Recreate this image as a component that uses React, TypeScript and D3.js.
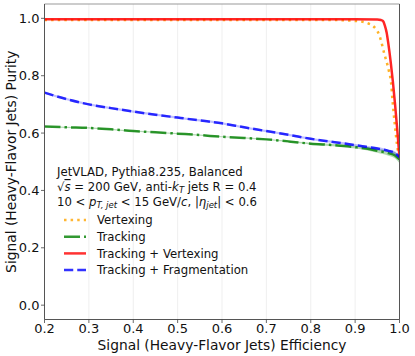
import React from "react";
import * as d3 from "d3";

const W = 415;
const H = 356;

// Efficiency grid for tracking curves
const effTrk = [0.2, 0.25, 0.3, 0.35, 0.4, 0.45, 0.5, 0.55, 0.6, 0.65, 0.7, 0.75, 0.8, 0.85, 0.9, 0.925, 0.95, 0.975, 0.99, 1.0];
const purFrag = [0.741, 0.718, 0.700, 0.687, 0.675, 0.664, 0.654, 0.644, 0.634, 0.620, 0.607, 0.594, 0.580, 0.569, 0.558, 0.552, 0.546, 0.538, 0.530, 0.516];
const purTrack = [0.623, 0.620, 0.618, 0.613, 0.607, 0.603, 0.598, 0.593, 0.587, 0.583, 0.578, 0.571, 0.563, 0.558, 0.551, 0.546, 0.538, 0.530, 0.522, 0.508];
const bandTrack = [0.002, 0.002, 0.002, 0.002, 0.002, 0.002, 0.002, 0.002, 0.002, 0.002, 0.002, 0.002, 0.003, 0.004, 0.005, 0.006, 0.007, 0.009, 0.011, 0.013];
const bandFrag = [0.004, 0.004, 0.004, 0.004, 0.004, 0.004, 0.004, 0.004, 0.004, 0.004, 0.004, 0.004, 0.004, 0.004, 0.004, 0.004, 0.005, 0.005, 0.006, 0.007];

const effTV = [0.2, 0.6, 0.9, 0.95, 0.958, 0.963, 0.967, 0.971, 0.975, 0.98, 0.985, 0.99, 0.995, 1.0];
const purTV = [0.997, 0.997, 0.997, 0.996, 0.994, 0.99, 0.975, 0.951, 0.91, 0.85, 0.78, 0.70, 0.61, 0.515];

const effVtx = [0.2, 0.6, 0.85, 0.88, 0.9, 0.917, 0.93, 0.94, 0.955, 0.966, 0.976, 0.981, 0.984, 0.989, 0.996, 1.0];
const purVtx = [0.994, 0.994, 0.994, 0.993, 0.991, 0.988, 0.982, 0.974, 0.939, 0.875, 0.817, 0.776, 0.718, 0.637, 0.543, 0.515];

const xTicks = [0.2, 0.3, 0.4, 0.5, 0.6, 0.7, 0.8, 0.9, 1.0];
const yTicks = [0.0, 0.2, 0.4, 0.6, 0.8, 1.0];

const legendLabels = ["Vertexing", "Tracking", "Tracking + Vertexing", "Tracking + Fragmentation"];
const legendColors = ["#ffa500", "#008000", "#ff0000", "#0000ff"];
const legendDash = ["2.5,4.1", "16,4,2.5,4", "", "9.25,4"];

const FONT = "DejaVu Sans, sans-serif";

export default function App() {
  const left = 44.5, right = 399.5, top = 4, bottom = 319.5;
  const x = d3.scaleLinear().domain([0.2, 1.0]).range([left, right]);
  const y = d3.scaleLinear().domain([-0.05, 1.05]).range([bottom, top]);

  const line = (xs: number[], ys: number[]) =>
    d3.line<number>().x((_, i) => x(xs[i])).y((d) => y(d)).curve(d3.curveMonotoneX)(ys) || "";
  const band = (xs: number[], ys: number[], bw: number[]) =>
    d3.area<number>().x((_, i) => x(xs[i])).y0((d, i) => y(d - bw[i])).y1((d, i) => y(d + bw[i])).curve(d3.curveMonotoneX)(ys) || "";

  const lw = 2.5;
  const lx0 = 64, lx1 = 86, ltx = 97;
  const ly0 = 220, ldy = 16.7;
  const fs = 11.7;
  const sfs = 8.5;

  return (
    <svg width={W} height={H} style={{ position: "absolute", left: 0, top: 0, background: "#fff" }} fontFamily={FONT}>
      <defs>
        <clipPath id="plotclip">
          <rect x={left} y={top} width={right - left} height={bottom - top} />
        </clipPath>
      </defs>
      {/* grid */}
      {xTicks.map((t) => (
        <line key={"g" + t} x1={x(t)} x2={x(t)} y1={top} y2={bottom} stroke="#ebebeb" strokeWidth={0.8} />
      ))}
      <g clipPath="url(#plotclip)">
        <path d={line(effVtx, purVtx)} fill="none" stroke="#ffa500" strokeWidth={lw} strokeDasharray="2.5,4.1" opacity={0.85} />
        <path d={band(effTrk, purTrack, bandTrack)} fill="#008000" opacity={0.3} />
        <path d={line(effTrk, purTrack)} fill="none" stroke="#008000" strokeWidth={lw} strokeDasharray="16,4,2.5,4" opacity={0.8} />
        <path d={line(effTV, purTV)} fill="none" stroke="#ff0000" strokeWidth={lw} opacity={0.85} />
        <path d={band(effTrk, purFrag, bandFrag)} fill="#0000ff" opacity={0.25} />
        <path d={line(effTrk, purFrag)} fill="none" stroke="#0000ff" strokeWidth={lw} strokeDasharray="9.25,4" opacity={0.8} />
      </g>
      {/* frame */}
      <line x1={left} x2={right} y1={top} y2={top} stroke="#999" strokeWidth={1} />
      <line x1={left} x2={right} y1={bottom} y2={bottom} stroke="#555" strokeWidth={1} />
      <line x1={left} x2={left} y1={top} y2={bottom} stroke="#555" strokeWidth={1} />
      <line x1={right} x2={right} y1={top} y2={bottom} stroke="#555" strokeWidth={1} />
      {/* x ticks */}
      {xTicks.map((t) => (
        <g key={"xt" + t}>
          <line x1={x(t)} x2={x(t)} y1={bottom} y2={bottom + 3.5} stroke="#444" strokeWidth={0.8} />
          <text x={x(t)} y={333} textAnchor="middle" fontSize={13} fill="#111">
            {t.toFixed(1)}
          </text>
        </g>
      ))}
      {yTicks.map((t) => (
        <g key={"yt" + t}>
          <line x1={left - 3.5} x2={left} y1={y(t)} y2={y(t)} stroke="#444" strokeWidth={0.8} />
          <text x={39.5} y={y(t)} dy="0.36em" textAnchor="end" fontSize={13} fill="#111">
            {t.toFixed(1)}
          </text>
        </g>
      ))}
      <text x={(left + right) / 2} y={349.5} textAnchor="middle" fontSize={13.8} fill="#111">
        Signal (Heavy-Flavor Jets) Efficiency
      </text>
      <text transform={`translate(15.5, ${(top + bottom) / 2}) rotate(-90)`} textAnchor="middle" fontSize={13.8} fill="#111">
        Signal (Heavy-Flavor Jets) Purity
      </text>
      {/* annotation */}
      <g fontSize={fs} fill="#111">
        <text x={57} y={176}>JetVLAD, Pythia8.235, Balanced</text>
        <text x={57} y={191}>
          √<tspan fontStyle="italic" textDecoration="overline">s</tspan> = 200 GeV, anti-
          <tspan fontStyle="italic">k</tspan>
          <tspan fontStyle="italic" fontSize={sfs} dy={2}>T</tspan>
          <tspan dy={-2}> jets R = 0.4</tspan>
        </text>
        <text x={57} y={206}>
          10 &lt; <tspan fontStyle="italic">p</tspan>
          <tspan fontStyle="italic" fontSize={sfs} dy={2}>T, jet</tspan>
          <tspan dy={-2}> &lt; 15 GeV/</tspan>
          <tspan fontStyle="italic">c</tspan>, |<tspan fontStyle="italic">η</tspan>
          <tspan fontStyle="italic" fontSize={sfs} dy={2}>jet</tspan>
          <tspan dy={-2}>| &lt; 0.6</tspan>
        </text>
      </g>
      {/* legend */}
      {legendLabels.map((lab, i) => (
        <g key={lab}>
          <line x1={lx0} x2={lx1} y1={ly0 + i * ldy} y2={ly0 + i * ldy} stroke={legendColors[i]} strokeWidth={lw}
            strokeDasharray={legendDash[i] || undefined} opacity={0.8} />
          <text x={ltx} y={ly0 + i * ldy} dy="0.36em" fontSize={fs} fill="#111">{lab}</text>
        </g>
      ))}
    </svg>
  );
}
